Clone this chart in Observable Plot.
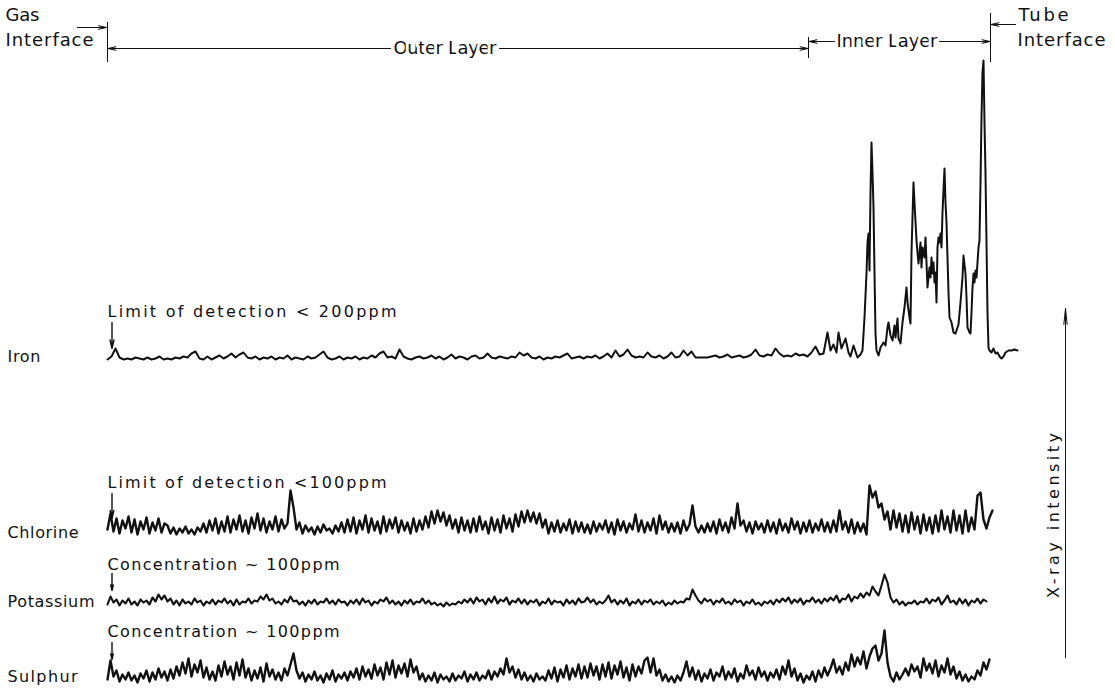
<!DOCTYPE html>
<html>
<head>
<meta charset="utf-8">
<script src="https://cdn.jsdelivr.net/npm/d3@7"></script>
<script src="https://cdn.jsdelivr.net/npm/@observablehq/plot@0.6"></script>
<style>
  html, body { margin: 0; padding: 0; background: #fff; }
  #chart svg { display: block; }
</style>
</head>
<body>
<div id="chart"></div>
<script>
// ---------------- DATA (arbitrary intensity units) ----------------
const elements = ["Iron", "Chlorine", "Potassium", "Sulphur"];
const detectionNotes = ["Limit of detection < 200ppm", "Limit of detection <100ppm", "Concentration ~ 100ppm", "Concentration ~ 100ppm"];
const interfaceLabels = ["Gas", "Interface", "Tube", "Interface"];
const zoneLabels = ["Outer Layer", "Inner Layer"];
const axisLabel = "X-ray intensity";

// Iron: outer layer, sampled every 4 distance units from the gas interface
const ironStep = 4;
const ironOuter = [
  3,6,14,5,3,4,3,5,4,3,5,3,4,6,3,4,3,5,4,6,
  5,9,11,4,3,6,3,5,7,4,6,9,5,8,10,5,4,6,3,5,
  4,6,3,5,4,7,3,5,4,3,6,4,5,8,11,5,3,4,6,3,
  5,4,6,3,5,4,7,5,9,11,5,6,4,13,6,4,3,5,6,4,
  5,7,4,6,3,5,8,4,6,5,3,6,7,4,5,9,5,4,6,5,
  4,6,5,10,7,9,5,4,6,3,5,4,6,5,7,9,4,5,6,4,
  6,5,7,4,6,9,5,12,6,8,13,7,5,6,5,10,6,5,7,4,
  6,10,5,6,12,7,11,5,5,5,5,6,7,5,6,8,5,6,7,5,
  6,8,13,7,6,8,7,14,9,6,7,6,9,7,8,6,10,16,8,9
];
// Iron: inner layer and beyond, read point by point
const ironInnerPos = [
  720,723,726,729,731,734,738,741,743,746,
  750,753,755,757,759,760,761,762,763,764,
  765,766,767,768,769,771,773,776,778,780,
  781,783,785,787,788,790,791,793,795,797,
  799,800,802,803,804,806,807,809,810,811,
  813,814,815,817,818,819,820,822,823,824,
  825,826,827,828,829,830,831,832,833,834,
  835,837,838,839,840,841,842,844,846,848,
  850,851,853,855,856,857,858,859,860,862,
  863,864,865,866,867,868,869,870,871,872,
  873,874,875,876,877,878,879,880,881,882,
  884,886,888,890,892,894,896,898,901,904,
  907,910
];
const ironInnerVal = [
  30,12,18,10,30,14,24,10,6,17,
  5,8,12,45,89,120,129,92,170,220,
  190,155,90,29,12,7,15,20,17,35,
  40,27,22,37,25,44,24,19,40,55,
  75,60,45,39,110,180,160,122,110,99,
  120,95,115,105,125,100,75,95,85,105,
  89,100,80,90,60,115,125,120,129,115,
  150,194,160,140,105,70,45,40,30,29,
  35,38,60,85,107,98,89,65,35,30,
  29,50,75,89,80,92,85,100,115,122,
  180,245,290,302,240,189,120,50,15,12,
  10,14,9,10,6,4,6,10,12,12,
  13,12
];

// Chlorine, Potassium, Sulphur: sampled every 3 distance units from the gas interface
const noiseStep = 3;
const chlorine = [
  8,24,6,19,4,17,9,21,5,18,3,16,8,20,4,15,7,19,5,14,
  12,4,10,3,9,5,11,4,8,3,10,6,14,5,17,7,19,4,16,6,
  21,5,18,8,22,6,17,4,20,9,24,7,19,5,16,8,21,6,18,9,
  14,47,30,8,15,4,12,6,10,3,11,5,13,7,9,4,12,6,15,5,
  18,6,20,4,17,8,22,5,19,7,16,4,21,6,18,9,20,5,17,7,
  15,4,19,6,17,8,21,10,26,14,27,16,25,12,22,9,18,5,20,7,
  17,5,19,6,21,8,16,4,20,7,18,5,22,9,19,6,23,11,26,15,
  27,16,25,14,24,10,18,4,15,6,17,5,14,7,18,4,16,6,15,5,
  13,4,16,6,14,8,17,5,15,3,18,7,16,5,14,8,23,6,17,5,
  15,7,19,4,22,8,16,5,14,6,15,4,17,7,13,32,11,5,12,5,
  14,6,16,4,18,7,15,5,20,9,34,12,17,6,15,4,16,8,14,5,
  17,6,15,4,18,7,14,5,19,8,16,4,15,6,17,5,14,7,18,6,
  15,5,17,6,27,8,16,5,18,4,15,6,14,3,52,40,46,30,34,18,
  26,8,27,10,24,6,22,5,25,8,21,4,23,7,20,4,22,6,27,8,
  21,5,27,7,22,4,27,6,20,8,42,45,18,9,20,27
];
const potassium = [
  3,11,5,8,2,7,4,9,3,6,2,8,5,7,3,10,6,13,8,12,
  6,9,3,7,2,8,4,6,3,9,5,7,2,6,4,8,3,7,5,9,
  4,7,2,8,3,6,5,9,4,7,6,11,8,13,7,9,4,6,3,8,
  5,11,6,7,3,6,2,7,4,8,3,6,5,9,4,7,3,8,5,6,
  2,7,4,8,3,9,5,7,2,6,4,8,6,10,4,7,3,6,2,7,
  4,8,3,6,5,9,4,7,3,5,2,4,1,5,2,4,3,6,4,8,
  5,9,4,10,6,8,3,9,5,11,4,8,6,10,3,7,5,9,4,8,
  3,7,5,8,2,6,4,9,3,7,5,6,2,8,4,7,3,9,5,6,
  10,5,8,3,6,4,7,12,5,8,3,7,4,9,2,6,4,8,3,7,
  5,8,3,6,4,7,2,5,3,7,4,6,5,9,8,18,12,7,4,9,
  6,8,3,7,5,9,4,6,3,8,5,7,2,6,4,8,3,5,2,6,
  4,7,3,8,5,9,6,10,4,8,5,9,3,7,6,10,5,8,4,9,
  6,10,7,12,5,9,8,13,6,11,9,14,10,15,12,21,16,12,22,33,
  25,10,5,8,3,6,2,5,4,7,3,6,5,9,4,8,6,10,3,7,
  12,5,7,3,9,4,8,2,7,5,9,4,8,6
];
const sulphur = [
  5,24,8,14,3,10,5,12,4,9,2,11,6,14,3,12,5,16,7,13,
  4,15,6,18,9,22,11,26,8,20,12,24,7,17,5,13,4,19,8,23,
  10,18,5,22,9,25,7,16,4,14,6,17,3,21,8,15,5,12,4,16,
  9,20,31,14,6,12,3,10,5,13,4,9,2,11,5,14,3,10,6,12,
  4,13,7,16,5,18,8,15,6,20,9,17,5,22,10,24,7,19,11,21,
  8,25,12,18,5,11,3,9,4,12,2,10,5,8,3,11,4,9,6,13,
  3,10,5,12,4,9,6,14,5,13,8,16,10,26,12,18,7,15,5,12,
  4,9,3,11,5,8,4,14,6,17,3,15,7,19,5,16,8,20,6,18,
  7,21,9,18,5,20,8,22,6,19,10,23,7,17,4,20,8,18,11,24,
  27,12,26,9,15,4,10,3,8,2,9,4,12,23,8,17,5,14,3,11,
  6,15,4,12,8,18,5,13,7,16,3,11,6,19,9,14,5,17,8,13,
  4,12,7,15,5,18,10,24,8,16,4,11,2,9,5,13,3,14,7,17,
  9,16,25,12,18,10,22,14,30,18,27,20,33,16,28,36,39,24,31,54,
  22,8,3,12,5,10,16,9,20,13,18,7,26,14,21,11,24,8,19,12,
  26,10,18,6,13,4,10,3,8,5,14,9,22,15,25
];

// ---------------- LAYOUT (scan distance and stacked-trace offsets) ----------------
const W = 1115, H = 689;
const GAS = 0, BOUNDARY = 701, TUBE = 883;          // interface positions along the scan
const offset = {Iron: 327, Chlorine: 152, Potassium: 82, Sulphur: 5};
const traceWidth = {Iron: 2, Chlorine: 2.4, Potassium: 2.1, Sulphur: 2.4};
const labelY = {Iron: 333, Chlorine: 157, Potassium: 88, Sulphur: 13};
const noteY = [378, 207, 125, 58];
const noteArrow = [[367, 341], [196, 171], [116, 99], [47, 30]];
const LABEL_X = -100, NOTE_X = 0, NOTE_ARROW_X = 4.5;
const TOP_BAR_Y = 641, INNER_BAR_Y = 648;
const AXIS_X = 958, AXIS_Y = [32, 381];

// text widths of the original lettering (wide drafting font)
const textWidth = {
  "Gas": 34, "Interface": 88, "Tube": 50, "Outer Layer": 103, "Inner Layer": 101,
  "Iron": 33, "Chlorine": 71, "Potassium": 87, "Sulphur": 70,
  "Limit of detection < 200ppm": 289, "Limit of detection <100ppm": 279,
  "Concentration ~ 100ppm": 232, "X-ray intensity": 165
};

// ---------------- BUILD ROWS ----------------
const rows = [];
ironOuter.forEach((v, i) => rows.push({series: "Iron", d: i * ironStep, v}));
ironInnerPos.forEach((d, i) => rows.push({series: "Iron", d, v: ironInnerVal[i]}));
chlorine.forEach((v, i) => rows.push({series: "Chlorine", d: i * noiseStep, v}));
potassium.forEach((v, i) => rows.push({series: "Potassium", d: i * noiseStep, v}));
sulphur.forEach((v, i) => rows.push({series: "Sulphur", d: i * noiseStep, v}));

const elementLabels = elements.map(e => ({text: e, x: LABEL_X, y: labelY[e]}));
const notes = detectionNotes.map((t, i) => ({text: t, x: NOTE_X, y: noteY[i]}));
const noteArrows = noteArrow.map(([a, b]) => ({x1: NOTE_ARROW_X, y1: a, x2: NOTE_ARROW_X, y2: b}));

const startTexts = [
  {text: interfaceLabels[0], x: -102, y: 674},
  {text: interfaceLabels[1], x: -102, y: 649},
  {text: interfaceLabels[2], x: 911, y: 674},
  {text: interfaceLabels[3], x: 910, y: 649}
];
const midTexts = [
  {text: zoneLabels[0], x: 337.5, y: TOP_BAR_Y},
  {text: zoneLabels[1], x: 779.5, y: INNER_BAR_Y}
];
const barArrows = [
  {x1: -30, y1: 662, x2: GAS - 1, y2: 662},
  {x1: 283, y1: TOP_BAR_Y, x2: GAS + 0.5, y2: TOP_BAR_Y},
  {x1: 392, y1: TOP_BAR_Y, x2: BOUNDARY - 0.5, y2: TOP_BAR_Y},
  {x1: 727, y1: INNER_BAR_Y, x2: BOUNDARY + 0.5, y2: INNER_BAR_Y},
  {x1: 832, y1: INNER_BAR_Y, x2: TUBE - 0.5, y2: INNER_BAR_Y},
  {x1: 908, y1: 665, x2: TUBE + 0.5, y2: 665}
];
const interfaceRules = [
  {x: GAS, y1: 627, y2: 667},
  {x: BOUNDARY, y1: 631, y2: 652},
  {x: TUBE, y1: 627, y2: 676}
];

const ink = "#111";
const chart = Plot.plot({
  width: W, height: H,
  marginLeft: 107, marginRight: W - 990, marginTop: 0, marginBottom: 0,
  x: {domain: [0, TUBE], axis: null},
  y: {domain: [0, H], axis: null},
  style: {fontFamily: "'DejaVu Sans', sans-serif", color: ink, background: "#fff", overflow: "visible"},
  marks: [
    ...elements.map(e => Plot.line(rows.filter(r => r.series === e), {
      x: "d", y: r => offset[r.series] + r.v, stroke: ink,
      strokeWidth: traceWidth[e], strokeLinejoin: "round"})),
    Plot.ruleX(interfaceRules, {x: "x", y1: "y1", y2: "y2", stroke: ink, strokeWidth: 1}),
    Plot.arrow(barArrows, {x1: "x1", y1: "y1", x2: "x2", y2: "y2", stroke: ink, strokeWidth: 1.1, headLength: 11, headAngle: 26}),
    Plot.arrow(noteArrows, {x1: "x1", y1: "y1", x2: "x2", y2: "y2", stroke: ink, strokeWidth: 1.4, headLength: 10, headAngle: 26}),
    Plot.arrow([{x1: AXIS_X, y1: AXIS_Y[0], x2: AXIS_X, y2: AXIS_Y[1]}], {x1: "x1", y1: "y1", x2: "x2", y2: "y2", stroke: ink, strokeWidth: 1, headLength: 24, headAngle: 12}),
    Plot.text(startTexts, {x: "x", y: "y", text: "text", textAnchor: "start", lineAnchor: "middle", fontSize: 18, fill: ink}),
    Plot.text(midTexts, {x: "x", y: "y", text: "text", textAnchor: "middle", lineAnchor: "middle", fontSize: 18, fill: ink, stroke: "#fff", strokeWidth: 6, paintOrder: "stroke"}),
    Plot.text(elementLabels, {x: "x", y: "y", text: "text", textAnchor: "start", lineAnchor: "middle", fontSize: 16, fill: ink}),
    Plot.text(notes, {x: "x", y: "y", text: "text", textAnchor: "start", lineAnchor: "middle", fontSize: 16, fill: ink}),
    Plot.text([{text: axisLabel, x: AXIS_X - 12, y: 174}], {x: "x", y: "y", text: "text", rotate: -90, textAnchor: "middle", lineAnchor: "middle", fontSize: 16, fill: ink})
  ]
});

// match the wide lettering of the original drafting font
d3.select(chart).selectAll("text").each(function() {
  const w = textWidth[this.textContent];
  if (w) { this.setAttribute("textLength", w); this.setAttribute("lengthAdjust", "spacing"); }
});

document.getElementById("chart").appendChild(chart);
</script>
</body>
</html>
